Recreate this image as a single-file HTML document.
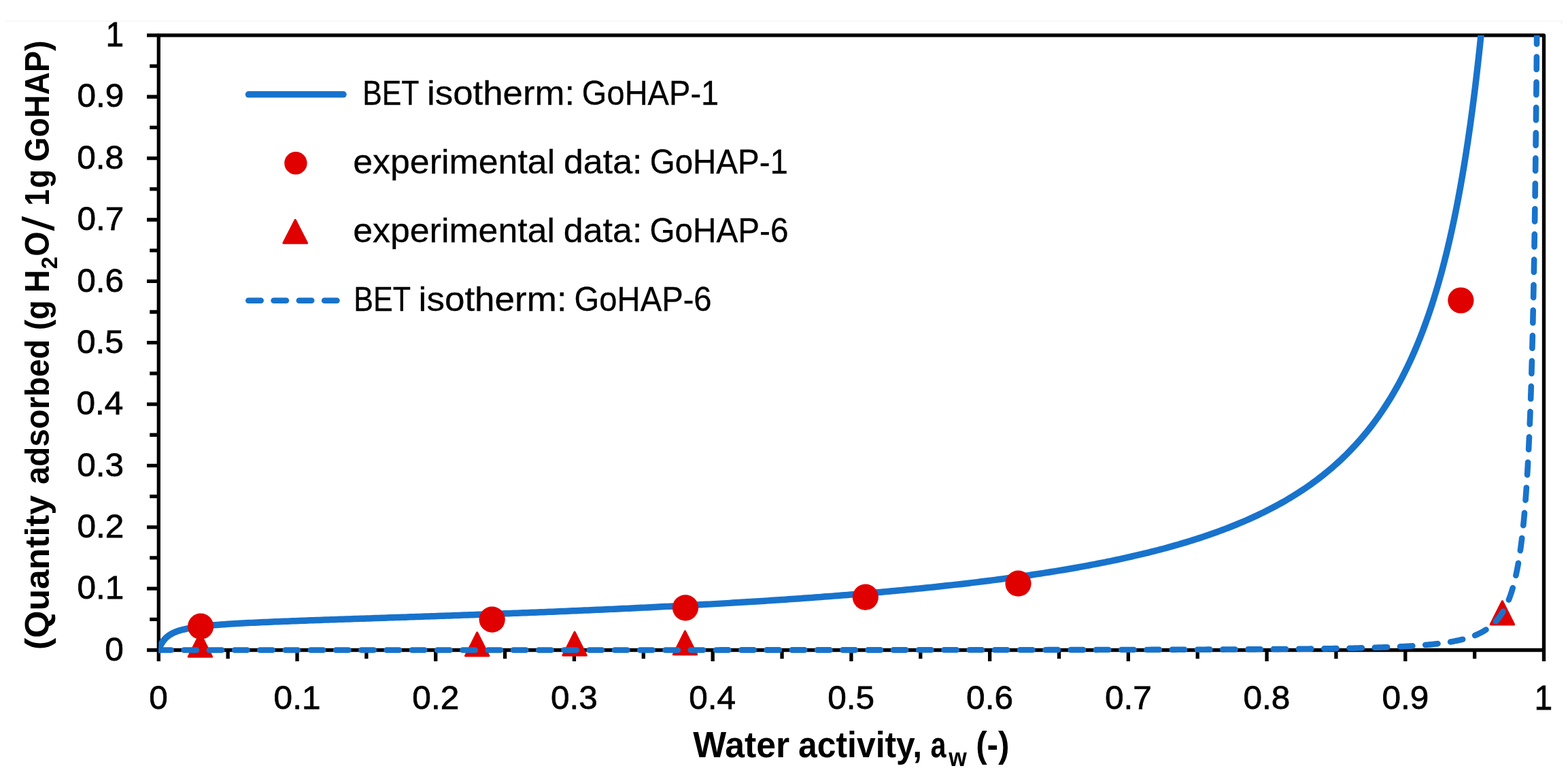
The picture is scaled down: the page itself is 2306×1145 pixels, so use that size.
<!DOCTYPE html>
<html><head><meta charset="utf-8"><title>Water sorption isotherms</title>
<style>html,body{margin:0;padding:0;background:#fff;overflow:hidden;}svg{display:block;}</style></head>
<body>
<svg width="2306" height="1145" viewBox="0 0 2306 1145" font-family="'Liberation Sans', sans-serif">
<rect width="2306" height="1145" fill="#fff"/>
<path d="M7.5 31.3H2297V36" fill="none" stroke="#f8f8f8" stroke-width="2.5"/>
<defs><clipPath id="pa"><rect x="233.30" y="51.90" width="2043.20" height="917.60"/></clipPath></defs>
<rect x="233.30" y="51.90" width="2037.20" height="903.60" fill="none" stroke="#000" stroke-width="5.3" stroke-linejoin="round"/>
<path d="M216.00 955.50H233.30M220.20 910.32H233.30M216.00 865.14H233.30M220.20 819.96H233.30M216.00 774.78H233.30M220.20 729.60H233.30M216.00 684.42H233.30M220.20 639.24H233.30M216.00 594.06H233.30M220.20 548.88H233.30M216.00 503.70H233.30M220.20 458.52H233.30M216.00 413.34H233.30M220.20 368.16H233.30M216.00 322.98H233.30M220.20 277.80H233.30M216.00 232.62H233.30M220.20 187.44H233.30M216.00 142.26H233.30M220.20 97.08H233.30M216.00 51.90H233.30M233.30 955.50V972.10M335.16 955.50V968.30M437.02 955.50V972.10M538.88 955.50V968.30M640.74 955.50V972.10M742.60 955.50V968.30M844.46 955.50V972.10M946.32 955.50V968.30M1048.18 955.50V972.10M1150.04 955.50V968.30M1251.90 955.50V972.10M1353.76 955.50V968.30M1455.62 955.50V972.10M1557.48 955.50V968.30M1659.34 955.50V972.10M1761.20 955.50V968.30M1863.06 955.50V972.10M1964.92 955.50V968.30M2066.78 955.50V972.10M2168.64 955.50V968.30M2270.50 955.50V972.10" stroke="#000" stroke-width="5.3" fill="none"/>
<g fill="#000" stroke="#000" stroke-width="0.75"><text transform="translate(154.27,970.66) scale(1.0200,1)" font-size="48.59" font-weight="normal">0</text><text transform="translate(113.39,880.30) scale(1.0200,1)" font-size="48.59" font-weight="normal">0.1</text><text transform="translate(113.39,789.94) scale(1.0200,1)" font-size="48.59" font-weight="normal">0.2</text><text transform="translate(113.14,699.58) scale(1.0200,1)" font-size="48.59" font-weight="normal">0.3</text><text transform="translate(112.39,609.22) scale(1.0200,1)" font-size="48.59" font-weight="normal">0.4</text><text transform="translate(112.89,518.86) scale(1.0200,1)" font-size="48.59" font-weight="normal">0.5</text><text transform="translate(113.14,428.50) scale(1.0200,1)" font-size="48.59" font-weight="normal">0.6</text><text transform="translate(113.39,338.14) scale(1.0200,1)" font-size="48.59" font-weight="normal">0.7</text><text transform="translate(113.14,247.78) scale(1.0200,1)" font-size="48.59" font-weight="normal">0.8</text><text transform="translate(113.39,157.42) scale(1.0200,1)" font-size="48.59" font-weight="normal">0.9</text><text transform="translate(155.61,67.55) scale(0.9581,1)" font-size="50.00" font-weight="normal">1</text><text transform="translate(219.35,1042.01) scale(1.0200,1)" font-size="48.59" font-weight="normal">0</text><text transform="translate(402.62,1042.01) scale(1.0200,1)" font-size="48.59" font-weight="normal">0.1</text><text transform="translate(606.34,1042.01) scale(1.0200,1)" font-size="48.59" font-weight="normal">0.2</text><text transform="translate(809.94,1042.01) scale(1.0200,1)" font-size="48.59" font-weight="normal">0.3</text><text transform="translate(1013.29,1042.01) scale(1.0200,1)" font-size="48.59" font-weight="normal">0.4</text><text transform="translate(1217.25,1042.01) scale(1.0200,1)" font-size="48.59" font-weight="normal">0.5</text><text transform="translate(1421.10,1042.01) scale(1.0200,1)" font-size="48.59" font-weight="normal">0.6</text><text transform="translate(1624.94,1042.01) scale(1.0200,1)" font-size="48.59" font-weight="normal">0.7</text><text transform="translate(1828.54,1042.01) scale(1.0200,1)" font-size="48.59" font-weight="normal">0.8</text><text transform="translate(2032.38,1042.01) scale(1.0200,1)" font-size="48.59" font-weight="normal">0.9</text><text transform="translate(2256.41,1042.50) scale(0.9581,1)" font-size="50.00" font-weight="normal">1</text></g>
<g fill="#000"><text transform="translate(1019.20,1112.50) scale(0.9742,1)" font-size="53.19" font-weight="bold">Water</text><text transform="translate(1174.10,1112.50) scale(0.9371,1)" font-size="53.19" font-weight="bold">activity,</text><text transform="translate(1368.56,1112.50) scale(0.7769,1)" font-size="53.19" font-weight="bold">a</text><text transform="translate(1395.30,1126.00) scale(0.9317,1)" font-size="36.60" font-weight="bold">w</text><text transform="translate(1435.13,1112.50) scale(0.9296,1)" font-size="53.19" font-weight="bold">(-)</text><text transform="translate(71.90,954.89) rotate(-90) scale(1.0312,1)" font-size="50.14" font-weight="bold">(Quantity</text><text transform="translate(71.90,712.02) rotate(-90) scale(0.9448,1)" font-size="50.14" font-weight="bold">adsorbed</text><text transform="translate(71.90,485.33) rotate(-90) scale(0.9306,1)" font-size="50.14" font-weight="bold">(g</text><text transform="translate(71.90,430.11) rotate(-90) scale(0.9227,1)" font-size="50.14" font-weight="bold">H</text><text transform="translate(84.40,395.46) rotate(-90) scale(0.9840,1)" font-size="33.66" font-weight="bold">2</text><text transform="translate(71.90,376.68) rotate(-90) scale(0.9354,1)" font-size="50.14" font-weight="bold">O</text><text transform="translate(78.70,339.60) rotate(-90) scale(1.2234,1)" font-size="64.20" font-weight="normal">/</text><text transform="translate(71.90,302.44) rotate(-90) scale(0.8706,1)" font-size="50.14" font-weight="bold">1</text><text transform="translate(71.90,276.51) rotate(-90) scale(0.9043,1)" font-size="50.14" font-weight="bold">g</text><text transform="translate(71.90,237.76) rotate(-90) scale(0.9276,1)" font-size="50.14" font-weight="bold">GoHAP)</text></g>
<g fill="#000" stroke="#000" stroke-width="0.3"><text transform="translate(533.17,154.40) scale(0.8552,1)" font-size="50.14" font-weight="normal">BET</text><text transform="translate(628.06,154.40) scale(1.0526,1)" font-size="50.14" font-weight="normal">isotherm:</text><text transform="translate(855.87,154.40) scale(0.9388,1)" font-size="50.14" font-weight="normal">GoHAP-1</text><text transform="translate(519.16,255.00) scale(1.0349,1)" font-size="50.14" font-weight="normal">experimental</text><text transform="translate(828.95,255.00) scale(1.0365,1)" font-size="50.14" font-weight="normal">data:</text><text transform="translate(955.70,255.00) scale(0.9476,1)" font-size="50.14" font-weight="normal">GoHAP-1</text><text transform="translate(519.17,356.30) scale(1.0344,1)" font-size="50.14" font-weight="normal">experimental</text><text transform="translate(828.81,356.30) scale(1.0360,1)" font-size="50.14" font-weight="normal">data:</text><text transform="translate(955.48,356.30) scale(0.9508,1)" font-size="50.14" font-weight="normal">GoHAP-6</text><text transform="translate(520.25,457.10) scale(0.8593,1)" font-size="50.14" font-weight="normal">BET</text><text transform="translate(615.60,457.10) scale(1.0577,1)" font-size="50.14" font-weight="normal">isotherm:</text><text transform="translate(844.52,457.10) scale(0.9422,1)" font-size="50.14" font-weight="normal">GoHAP-6</text></g>
<line x1="365.5" y1="138.8" x2="505.0" y2="138.8" stroke="#1873cc" stroke-width="9.5" stroke-linecap="round"/>
<circle cx="434.9" cy="239.8" r="16.7" fill="#e00000"/>
<path d="M434.20 323.40L451.45 357.20L416.95 357.20Z" fill="#e00000" stroke="#e00000" stroke-width="3.20" stroke-linejoin="round"/>
<line x1="365.3" y1="441.7" x2="500.0" y2="441.7" stroke="#1873cc" stroke-width="8.6" stroke-linecap="round" stroke-dasharray="18.4 18.86"/>
<g clip-path="url(#pa)">
<polyline points="233.30,955.50 233.30,955.49 233.30,955.49 233.30,955.49 233.30,955.49 233.30,955.49 233.30,955.49 233.30,955.49 233.30,955.49 233.30,955.49 233.30,955.49 233.30,955.49 233.30,955.49 233.30,955.49 233.30,955.49 233.30,955.49 233.30,955.49 233.30,955.49 233.31,955.49 233.31,955.48 233.31,955.48 233.31,955.48 233.31,955.48 233.31,955.48 233.31,955.48 233.31,955.48 233.31,955.48 233.31,955.48 233.31,955.47 233.31,955.47 233.31,955.47 233.31,955.47 233.31,955.47 233.31,955.47 233.31,955.46 233.31,955.46 233.31,955.46 233.31,955.46 233.32,955.46 233.32,955.45 233.32,955.45 233.32,955.45 233.32,955.44 233.32,955.44 233.32,955.44 233.32,955.44 233.32,955.43 233.32,955.43 233.33,955.42 233.33,955.42 233.33,955.42 233.33,955.41 233.33,955.41 233.33,955.40 233.34,955.39 233.34,955.39 233.34,955.38 233.34,955.38 233.35,955.37 233.35,955.36 233.35,955.35 233.35,955.35 233.36,955.34 233.36,955.33 233.36,955.32 233.37,955.31 233.37,955.30 233.37,955.29 233.38,955.27 233.38,955.26 233.39,955.25 233.39,955.24 233.40,955.22 233.40,955.20 233.41,955.19 233.41,955.17 233.42,955.15 233.43,955.13 233.43,955.11 233.44,955.09 233.45,955.07 233.46,955.05 233.47,955.02 233.48,954.99 233.49,954.97 233.50,954.94 233.51,954.91 233.52,954.87 233.53,954.84 233.54,954.80 233.56,954.76 233.57,954.72 233.59,954.68 233.60,954.64 233.62,954.59 233.64,954.54 233.66,954.49 233.68,954.43 233.70,954.37 233.72,954.31 233.74,954.25 233.77,954.18 233.79,954.11 233.82,954.03 233.85,953.96 233.88,953.87 233.91,953.79 233.95,953.69 233.98,953.60 234.02,953.50 234.06,953.39 234.11,953.28 234.15,953.16 234.20,953.04 234.25,952.91 234.30,952.77 234.36,952.63 234.42,952.48 234.48,952.33 234.55,952.16 234.62,951.99 234.69,951.82 234.77,951.63 234.85,951.43 234.93,951.23 235.03,951.02 235.12,950.79 235.22,950.56 235.33,950.32 235.45,950.07 235.57,949.81 235.69,949.53 235.83,949.25 235.97,948.96 236.12,948.65 236.27,948.33 236.44,948.01 236.61,947.67 236.80,947.31 237.00,946.95 237.20,946.57 237.42,946.19 237.65,945.79 237.89,945.38 238.15,944.95 238.42,944.52 238.71,944.07 239.01,943.61 239.33,943.15 239.66,942.67 240.02,942.18 240.40,941.68 240.79,941.17 241.21,940.65 241.65,940.13 242.12,939.60 242.61,939.05 243.13,938.51 243.68,937.95 244.26,937.40 244.87,936.83 245.52,936.27 246.20,935.70 246.92,935.12 247.69,934.55 248.49,933.98 249.34,933.40 250.23,932.83 251.18,932.26 252.18,931.69 253.23,931.12 254.35,930.56 255.53,930.00 256.77,929.45 258.08,928.90 259.46,928.36 260.92,927.83 262.47,927.30 264.10,926.78 265.82,926.27 267.64,925.76 269.55,925.26 271.58,924.78 273.72,924.30 275.98,923.82 278.36,923.36 280.88,922.91 283.54,922.46 286.35,922.03 289.31,921.60 292.44,921.18 295.74,920.76 299.23,920.36 302.92,919.96 306.81,919.57 310.91,919.18 315.25,918.80 319.83,918.42 324.66,918.05 329.77,917.68 335.16,917.32 339.50,917.04 343.84,916.77 348.18,916.52 352.52,916.27 356.86,916.04 361.20,915.81 365.54,915.59 369.88,915.37 374.22,915.16 378.56,914.96 382.90,914.76 387.24,914.57 391.58,914.38 395.92,914.19 400.26,914.01 404.60,913.83 408.94,913.66 413.28,913.48 417.62,913.31 421.96,913.14 426.30,912.98 430.64,912.81 434.98,912.65 439.32,912.49 443.66,912.33 448.00,912.17 452.34,912.01 456.68,911.86 461.02,911.70 465.36,911.55 469.70,911.40 474.04,911.24 478.38,911.09 482.72,910.94 487.06,910.79 491.40,910.64 495.74,910.50 500.08,910.35 504.42,910.20 508.76,910.05 513.10,909.91 517.44,909.76 521.78,909.61 526.12,909.47 530.46,909.32 534.80,909.18 539.14,909.03 543.48,908.88 547.82,908.74 552.15,908.59 556.49,908.45 560.83,908.30 565.17,908.15 569.51,908.01 573.85,907.86 578.19,907.72 582.53,907.57 586.87,907.42 591.21,907.28 595.55,907.13 599.89,906.98 604.23,906.83 608.57,906.69 612.91,906.54 617.25,906.39 621.59,906.24 625.93,906.09 630.27,905.94 634.61,905.79 638.95,905.64 643.29,905.49 647.63,905.34 651.97,905.19 656.31,905.04 660.65,904.88 664.99,904.73 669.33,904.58 673.67,904.42 678.01,904.27 682.35,904.11 686.69,903.96 691.03,903.80 695.37,903.64 699.71,903.48 704.05,903.33 708.39,903.17 712.73,903.01 717.07,902.85 721.41,902.69 725.75,902.52 730.09,902.36 734.43,902.20 738.77,902.04 743.11,901.87 747.45,901.71 751.79,901.54 756.13,901.37 760.47,901.21 764.81,901.04 769.15,900.87 773.49,900.70 777.83,900.53 782.17,900.36 786.51,900.19 790.85,900.01 795.19,899.84 799.53,899.66 803.87,899.49 808.21,899.31 812.55,899.13 816.89,898.96 821.23,898.78 825.57,898.60 829.91,898.42 834.25,898.23 838.59,898.05 842.93,897.87 847.27,897.68 851.61,897.50 855.95,897.31 860.29,897.12 864.63,896.93 868.97,896.74 873.31,896.55 877.65,896.36 881.99,896.16 886.33,895.97 890.67,895.77 895.01,895.58 899.35,895.38 903.69,895.18 908.03,894.98 912.37,894.78 916.71,894.58 921.05,894.37 925.39,894.17 929.73,893.96 934.07,893.75 938.41,893.54 942.75,893.33 947.09,893.12 951.43,892.91 955.77,892.70 960.11,892.48 964.45,892.26 968.79,892.05 973.13,891.83 977.47,891.61 981.81,891.38 986.14,891.16 990.48,890.94 994.82,890.71 999.16,890.48 1003.50,890.25 1007.84,890.02 1012.18,889.79 1016.52,889.55 1020.86,889.32 1025.20,889.08 1029.54,888.84 1033.88,888.60 1038.22,888.36 1042.56,888.12 1046.90,887.87 1051.24,887.63 1055.58,887.38 1059.92,887.13 1064.26,886.87 1068.60,886.62 1072.94,886.37 1077.28,886.11 1081.62,885.85 1085.96,885.59 1090.30,885.32 1094.64,885.06 1098.98,884.79 1103.32,884.52 1107.66,884.25 1112.00,883.98 1116.34,883.71 1120.68,883.43 1125.02,883.15 1129.36,882.87 1133.70,882.59 1138.04,882.30 1142.38,882.02 1146.72,881.73 1151.06,881.44 1155.40,881.14 1159.74,880.85 1164.08,880.55 1168.42,880.25 1172.76,879.95 1177.10,879.64 1181.44,879.33 1185.78,879.02 1190.12,878.71 1194.46,878.40 1198.80,878.08 1203.14,877.76 1207.48,877.44 1211.82,877.11 1216.16,876.78 1220.50,876.45 1224.84,876.12 1229.18,875.78 1233.52,875.45 1237.86,875.10 1242.20,874.76 1246.54,874.41 1250.88,874.06 1255.22,873.71 1259.56,873.36 1263.90,873.00 1268.24,872.63 1272.58,872.27 1276.92,871.90 1281.26,871.53 1285.60,871.15 1289.94,870.78 1294.28,870.40 1298.62,870.01 1302.96,869.62 1307.30,869.23 1311.64,868.84 1315.98,868.44 1320.32,868.04 1324.66,867.63 1329.00,867.22 1333.34,866.81 1337.68,866.39 1342.02,865.97 1346.36,865.54 1350.70,865.12 1355.04,864.68 1359.38,864.25 1363.72,863.80 1368.06,863.36 1372.40,862.91 1376.74,862.46 1381.08,862.00 1385.42,861.53 1389.76,861.07 1394.10,860.59 1398.44,860.12 1402.78,859.64 1407.12,859.15 1411.46,858.66 1415.80,858.16 1420.13,857.66 1424.47,857.16 1428.81,856.65 1433.15,856.13 1437.49,855.61 1441.83,855.08 1446.17,854.55 1450.51,854.01 1454.85,853.46 1459.19,852.91 1463.53,852.36 1467.87,851.80 1472.21,851.23 1476.55,850.65 1480.89,850.07 1485.23,849.49 1489.57,848.89 1493.91,848.29 1498.25,847.69 1502.59,847.07 1506.93,846.45 1511.27,845.83 1515.61,845.19 1519.95,844.55 1524.29,843.90 1528.63,843.24 1532.97,842.58 1537.31,841.91 1541.65,841.23 1545.99,840.54 1550.33,839.84 1554.67,839.13 1559.01,838.42 1563.35,837.70 1567.69,836.97 1572.03,836.23 1576.37,835.48 1580.71,834.72 1585.05,833.95 1589.39,833.17 1593.73,832.38 1598.07,831.58 1602.41,830.77 1606.75,829.95 1611.09,829.12 1615.43,828.28 1619.77,827.43 1624.11,826.57 1628.45,825.69 1632.79,824.80 1637.13,823.90 1641.47,822.99 1645.81,822.07 1650.15,821.13 1654.49,820.18 1658.83,819.21 1663.17,818.24 1667.51,817.24 1671.85,816.24 1676.19,815.22 1680.53,814.18 1684.87,813.13 1689.21,812.06 1693.55,810.98 1697.89,809.88 1702.23,808.76 1706.57,807.63 1710.91,806.48 1715.25,805.31 1719.59,804.12 1723.93,802.92 1728.27,801.69 1732.61,800.45 1736.95,799.18 1741.29,797.89 1745.63,796.59 1749.97,795.26 1754.31,793.91 1758.65,792.53 1762.99,791.13 1767.33,789.71 1771.67,788.26 1776.01,786.79 1780.35,785.29 1784.69,783.77 1789.03,782.22 1793.37,780.64 1797.71,779.03 1802.05,777.39 1806.39,775.72 1810.73,774.02 1815.07,772.28 1819.41,770.52 1823.75,768.71 1828.09,766.88 1832.43,765.00 1836.77,763.09 1841.11,761.14 1845.45,759.15 1849.79,757.12 1854.12,755.05 1858.46,752.94 1862.80,750.78 1867.14,748.57 1871.48,746.31 1875.82,744.01 1880.16,741.65 1884.50,739.24 1888.84,736.78 1893.18,734.26 1897.52,731.68 1901.86,729.04 1906.20,726.34 1910.54,723.57 1914.88,720.73 1919.22,717.83 1923.56,714.85 1927.90,711.79 1932.24,708.66 1936.58,705.45 1940.92,702.15 1945.26,698.76 1949.60,695.29 1953.94,691.71 1958.28,688.04 1962.62,684.27 1966.96,680.38 1971.30,676.39 1975.64,672.27 1979.98,668.04 1984.32,663.67 1988.66,659.17 1993.00,654.53 1997.34,649.74 2001.68,644.80 2006.02,639.70 2010.36,634.42 2014.70,628.97 2019.04,623.32 2023.38,617.48 2027.72,611.44 2032.06,605.17 2036.40,598.67 2040.74,591.92 2045.08,584.91 2049.42,577.63 2053.76,570.06 2058.10,562.17 2062.44,553.96 2066.78,545.40 2069.12,540.64 2071.42,535.82 2073.71,530.95 2075.96,526.02 2078.19,521.04 2080.40,515.99 2082.58,510.89 2084.73,505.73 2086.86,500.51 2088.97,495.23 2091.05,489.89 2093.11,484.48 2095.14,479.02 2097.15,473.48 2099.14,467.89 2101.11,462.23 2103.05,456.51 2104.97,450.71 2106.87,444.85 2108.74,438.93 2110.60,432.93 2112.43,426.87 2114.24,420.73 2116.03,414.53 2117.80,408.25 2119.56,401.90 2121.29,395.47 2123.00,388.97 2124.69,382.40 2126.36,375.74 2128.01,369.02 2129.65,362.21 2131.26,355.32 2132.86,348.36 2134.44,341.31 2136.00,334.19 2137.54,326.98 2139.06,319.68 2140.57,312.30 2142.06,304.84 2143.53,297.29 2144.99,289.65 2146.43,281.92 2147.85,274.11 2149.26,266.20 2150.65,258.20 2152.02,250.11 2153.38,241.92 2154.72,233.64 2156.05,225.27 2157.36,216.79 2158.66,208.22 2159.94,199.55 2161.21,190.78 2162.46,181.90 2163.70,172.93 2164.93,163.85 2166.14,154.66 2167.33,145.37 2168.52,135.97 2169.69,126.46 2170.84,116.84 2171.98,107.11 2173.11,97.26 2174.23,87.31 2175.33,77.23 2176.42,67.04 2177.50,56.73 2178.57,46.30 2179.62,35.76 2180.67,25.08 2181.70,14.29 2182.71,3.37 2183.72,-7.68" fill="none" stroke="#1873cc" stroke-width="9.5" stroke-linejoin="round" stroke-linecap="round"/>
<circle cx="295.1" cy="920.7" r="19.1" fill="#e00000"/>
<circle cx="723.7" cy="910.6" r="19.1" fill="#e00000"/>
<circle cx="1008.0" cy="893.3" r="19.1" fill="#e00000"/>
<circle cx="1272.8" cy="877.7" r="19.1" fill="#e00000"/>
<circle cx="1497.5" cy="857.7" r="19.1" fill="#e00000"/>
<circle cx="2148.4" cy="441.5" r="19.1" fill="#e00000"/>
<path d="M294.40 931.20L311.50 965.20L277.30 965.20Z" fill="#e00000" stroke="#e00000" stroke-width="3.20" stroke-linejoin="round"/>
<path d="M701.70 929.90L718.80 963.90L684.60 963.90Z" fill="#e00000" stroke="#e00000" stroke-width="3.20" stroke-linejoin="round"/>
<path d="M845.10 929.20L862.20 963.20L828.00 963.20Z" fill="#e00000" stroke="#e00000" stroke-width="3.20" stroke-linejoin="round"/>
<path d="M1007.50 927.90L1024.60 961.90L990.40 961.90Z" fill="#e00000" stroke="#e00000" stroke-width="3.20" stroke-linejoin="round"/>
<path d="M2209.40 883.80L2226.50 917.80L2192.30 917.80Z" fill="#e00000" stroke="#e00000" stroke-width="3.20" stroke-linejoin="round"/>
<polyline points="233.30,955.50 233.30,955.50 233.30,955.50 233.30,955.50 233.30,955.50 233.30,955.50 233.30,955.50 233.30,955.50 233.30,955.50 233.30,955.50 233.30,955.50 233.30,955.50 233.30,955.50 233.30,955.50 233.30,955.50 233.30,955.50 233.30,955.50 233.30,955.50 233.31,955.50 233.31,955.50 233.31,955.50 233.31,955.50 233.31,955.50 233.31,955.50 233.31,955.50 233.31,955.50 233.31,955.50 233.31,955.50 233.31,955.50 233.31,955.50 233.31,955.50 233.31,955.50 233.31,955.50 233.31,955.50 233.31,955.50 233.31,955.50 233.31,955.50 233.31,955.50 233.32,955.50 233.32,955.50 233.32,955.50 233.32,955.50 233.32,955.50 233.32,955.50 233.32,955.50 233.32,955.50 233.32,955.50 233.32,955.50 233.33,955.50 233.33,955.50 233.33,955.50 233.33,955.50 233.33,955.50 233.33,955.50 233.34,955.50 233.34,955.50 233.34,955.50 233.34,955.50 233.35,955.50 233.35,955.50 233.35,955.50 233.35,955.50 233.36,955.50 233.36,955.50 233.36,955.50 233.37,955.50 233.37,955.50 233.37,955.50 233.38,955.50 233.38,955.50 233.39,955.50 233.39,955.50 233.40,955.50 233.40,955.50 233.41,955.50 233.41,955.50 233.42,955.50 233.43,955.50 233.43,955.50 233.44,955.50 233.45,955.50 233.46,955.50 233.47,955.50 233.48,955.50 233.49,955.50 233.50,955.50 233.51,955.50 233.52,955.50 233.53,955.50 233.54,955.50 233.56,955.50 233.57,955.50 233.59,955.50 233.60,955.50 233.62,955.50 233.64,955.50 233.66,955.50 233.68,955.50 233.70,955.50 233.72,955.50 233.74,955.50 233.77,955.50 233.79,955.50 233.82,955.50 233.85,955.50 233.88,955.50 233.91,955.50 233.95,955.50 233.98,955.50 234.02,955.50 234.06,955.50 234.11,955.50 234.15,955.50 234.20,955.50 234.25,955.50 234.30,955.50 234.36,955.50 234.42,955.50 234.48,955.50 234.55,955.50 234.62,955.50 234.69,955.50 234.77,955.50 234.85,955.50 234.93,955.50 235.03,955.50 235.12,955.50 235.22,955.50 235.33,955.50 235.45,955.50 235.57,955.50 235.69,955.50 235.83,955.50 235.97,955.50 236.12,955.50 236.27,955.50 236.44,955.50 236.61,955.50 236.80,955.50 237.00,955.50 237.20,955.50 237.42,955.50 237.65,955.50 237.89,955.50 238.15,955.50 238.42,955.50 238.71,955.50 239.01,955.50 239.33,955.50 239.66,955.50 240.02,955.50 240.40,955.50 240.79,955.50 241.21,955.50 241.65,955.50 242.12,955.50 242.61,955.50 243.13,955.50 243.68,955.50 244.26,955.50 244.87,955.50 245.52,955.50 246.20,955.50 246.92,955.50 247.69,955.50 248.49,955.50 249.34,955.50 250.23,955.50 251.18,955.50 252.18,955.50 253.23,955.50 254.35,955.50 255.53,955.50 256.77,955.50 258.08,955.50 259.46,955.50 260.92,955.50 262.47,955.50 264.10,955.50 265.82,955.50 267.64,955.50 269.55,955.50 271.58,955.50 273.72,955.50 275.98,955.50 278.36,955.50 280.88,955.50 283.54,955.50 286.35,955.50 289.31,955.50 292.44,955.50 295.74,955.50 299.23,955.50 302.92,955.50 306.81,955.50 310.91,955.50 315.25,955.50 319.83,955.50 324.66,955.50 329.77,955.50 335.16,955.50 339.50,955.50 343.84,955.50 348.18,955.50 352.52,955.50 356.86,955.50 361.20,955.50 365.54,955.50 369.88,955.49 374.22,955.49 378.56,955.49 382.90,955.49 387.24,955.49 391.58,955.49 395.92,955.49 400.26,955.49 404.60,955.49 408.94,955.49 413.28,955.49 417.62,955.49 421.96,955.49 426.30,955.49 430.64,955.49 434.98,955.49 439.32,955.49 443.66,955.49 448.00,955.49 452.34,955.49 456.68,955.49 461.02,955.49 465.36,955.49 469.70,955.49 474.04,955.49 478.38,955.49 482.72,955.49 487.06,955.49 491.40,955.49 495.74,955.49 500.08,955.49 504.42,955.49 508.76,955.49 513.10,955.49 517.44,955.49 521.78,955.49 526.12,955.49 530.46,955.49 534.80,955.49 539.14,955.49 543.48,955.49 547.82,955.49 552.15,955.49 556.49,955.49 560.83,955.48 565.17,955.48 569.51,955.48 573.85,955.48 578.19,955.48 582.53,955.48 586.87,955.48 591.21,955.48 595.55,955.48 599.89,955.48 604.23,955.48 608.57,955.48 612.91,955.48 617.25,955.48 621.59,955.48 625.93,955.48 630.27,955.48 634.61,955.48 638.95,955.48 643.29,955.48 647.63,955.48 651.97,955.48 656.31,955.48 660.65,955.48 664.99,955.48 669.33,955.48 673.67,955.48 678.01,955.48 682.35,955.48 686.69,955.48 691.03,955.48 695.37,955.47 699.71,955.47 704.05,955.47 708.39,955.47 712.73,955.47 717.07,955.47 721.41,955.47 725.75,955.47 730.09,955.47 734.43,955.47 738.77,955.47 743.11,955.47 747.45,955.47 751.79,955.47 756.13,955.47 760.47,955.47 764.81,955.47 769.15,955.47 773.49,955.47 777.83,955.47 782.17,955.47 786.51,955.47 790.85,955.47 795.19,955.47 799.53,955.46 803.87,955.46 808.21,955.46 812.55,955.46 816.89,955.46 821.23,955.46 825.57,955.46 829.91,955.46 834.25,955.46 838.59,955.46 842.93,955.46 847.27,955.46 851.61,955.46 855.95,955.46 860.29,955.46 864.63,955.46 868.97,955.46 873.31,955.46 877.65,955.46 881.99,955.45 886.33,955.45 890.67,955.45 895.01,955.45 899.35,955.45 903.69,955.45 908.03,955.45 912.37,955.45 916.71,955.45 921.05,955.45 925.39,955.45 929.73,955.45 934.07,955.45 938.41,955.45 942.75,955.45 947.09,955.45 951.43,955.44 955.77,955.44 960.11,955.44 964.45,955.44 968.79,955.44 973.13,955.44 977.47,955.44 981.81,955.44 986.14,955.44 990.48,955.44 994.82,955.44 999.16,955.44 1003.50,955.44 1007.84,955.43 1012.18,955.43 1016.52,955.43 1020.86,955.43 1025.20,955.43 1029.54,955.43 1033.88,955.43 1038.22,955.43 1042.56,955.43 1046.90,955.43 1051.24,955.43 1055.58,955.43 1059.92,955.42 1064.26,955.42 1068.60,955.42 1072.94,955.42 1077.28,955.42 1081.62,955.42 1085.96,955.42 1090.30,955.42 1094.64,955.42 1098.98,955.42 1103.32,955.41 1107.66,955.41 1112.00,955.41 1116.34,955.41 1120.68,955.41 1125.02,955.41 1129.36,955.41 1133.70,955.41 1138.04,955.41 1142.38,955.40 1146.72,955.40 1151.06,955.40 1155.40,955.40 1159.74,955.40 1164.08,955.40 1168.42,955.40 1172.76,955.40 1177.10,955.39 1181.44,955.39 1185.78,955.39 1190.12,955.39 1194.46,955.39 1198.80,955.39 1203.14,955.39 1207.48,955.38 1211.82,955.38 1216.16,955.38 1220.50,955.38 1224.84,955.38 1229.18,955.38 1233.52,955.38 1237.86,955.37 1242.20,955.37 1246.54,955.37 1250.88,955.37 1255.22,955.37 1259.56,955.37 1263.90,955.36 1268.24,955.36 1272.58,955.36 1276.92,955.36 1281.26,955.36 1285.60,955.36 1289.94,955.35 1294.28,955.35 1298.62,955.35 1302.96,955.35 1307.30,955.35 1311.64,955.34 1315.98,955.34 1320.32,955.34 1324.66,955.34 1329.00,955.33 1333.34,955.33 1337.68,955.33 1342.02,955.33 1346.36,955.33 1350.70,955.32 1355.04,955.32 1359.38,955.32 1363.72,955.32 1368.06,955.31 1372.40,955.31 1376.74,955.31 1381.08,955.31 1385.42,955.30 1389.76,955.30 1394.10,955.30 1398.44,955.30 1402.78,955.29 1407.12,955.29 1411.46,955.29 1415.80,955.28 1420.13,955.28 1424.47,955.28 1428.81,955.28 1433.15,955.27 1437.49,955.27 1441.83,955.27 1446.17,955.26 1450.51,955.26 1454.85,955.26 1459.19,955.25 1463.53,955.25 1467.87,955.24 1472.21,955.24 1476.55,955.24 1480.89,955.23 1485.23,955.23 1489.57,955.23 1493.91,955.22 1498.25,955.22 1502.59,955.21 1506.93,955.21 1511.27,955.21 1515.61,955.20 1519.95,955.20 1524.29,955.19 1528.63,955.19 1532.97,955.18 1537.31,955.18 1541.65,955.17 1545.99,955.17 1550.33,955.16 1554.67,955.16 1559.01,955.15 1563.35,955.15 1567.69,955.14 1572.03,955.14 1576.37,955.13 1580.71,955.12 1585.05,955.12 1589.39,955.11 1593.73,955.11 1598.07,955.10 1602.41,955.09 1606.75,955.09 1611.09,955.08 1615.43,955.07 1619.77,955.07 1624.11,955.06 1628.45,955.05 1632.79,955.04 1637.13,955.04 1641.47,955.03 1645.81,955.02 1650.15,955.01 1654.49,955.01 1658.83,955.00 1663.17,954.99 1667.51,954.98 1671.85,954.97 1676.19,954.96 1680.53,954.95 1684.87,954.94 1689.21,954.93 1693.55,954.92 1697.89,954.91 1702.23,954.90 1706.57,954.89 1710.91,954.88 1715.25,954.87 1719.59,954.86 1723.93,954.84 1728.27,954.83 1732.61,954.82 1736.95,954.81 1741.29,954.79 1745.63,954.78 1749.97,954.76 1754.31,954.75 1758.65,954.74 1762.99,954.72 1767.33,954.70 1771.67,954.69 1776.01,954.67 1780.35,954.66 1784.69,954.64 1789.03,954.62 1793.37,954.60 1797.71,954.58 1802.05,954.56 1806.39,954.54 1810.73,954.52 1815.07,954.50 1819.41,954.48 1823.75,954.46 1828.09,954.44 1832.43,954.41 1836.77,954.39 1841.11,954.36 1845.45,954.34 1849.79,954.31 1854.12,954.28 1858.46,954.25 1862.80,954.22 1867.14,954.19 1871.48,954.16 1875.82,954.13 1880.16,954.10 1884.50,954.06 1888.84,954.03 1893.18,953.99 1897.52,953.95 1901.86,953.91 1906.20,953.87 1910.54,953.83 1914.88,953.78 1919.22,953.73 1923.56,953.69 1927.90,953.64 1932.24,953.59 1936.58,953.53 1940.92,953.48 1945.26,953.42 1949.60,953.36 1953.94,953.29 1958.28,953.23 1962.62,953.16 1966.96,953.09 1971.30,953.01 1975.64,952.94 1979.98,952.85 1984.32,952.77 1988.66,952.68 1993.00,952.59 1997.34,952.49 2001.68,952.39 2006.02,952.28 2010.36,952.17 2014.70,952.05 2019.04,951.92 2023.38,951.79 2027.72,951.66 2032.06,951.51 2036.40,951.36 2040.74,951.19 2045.08,951.02 2049.42,950.84 2053.76,950.65 2058.10,950.44 2062.44,950.23 2066.78,950.00 2069.12,949.87 2071.42,949.74 2073.71,949.60 2075.96,949.46 2078.19,949.32 2080.40,949.17 2082.58,949.03 2084.73,948.87 2086.86,948.72 2088.97,948.56 2091.05,948.40 2093.11,948.23 2095.14,948.06 2097.15,947.89 2099.14,947.71 2101.11,947.53 2103.05,947.35 2104.97,947.16 2106.87,946.97 2108.74,946.77 2110.60,946.57 2112.43,946.36 2114.24,946.15 2116.03,945.94 2117.80,945.72 2119.56,945.49 2121.29,945.26 2123.00,945.03 2124.69,944.79 2126.36,944.54 2128.01,944.29 2129.65,944.04 2131.26,943.78 2132.86,943.51 2134.44,943.24 2136.00,942.96 2137.54,942.67 2139.06,942.38 2140.57,942.09 2142.06,941.78 2143.53,941.47 2144.99,941.16 2146.43,940.83 2147.85,940.50 2149.26,940.17 2150.65,939.82 2152.02,939.47 2153.38,939.11 2154.72,938.74 2156.05,938.37 2157.36,937.99 2158.66,937.60 2159.94,937.20 2161.21,936.79 2162.46,936.37 2163.70,935.95 2164.93,935.52 2166.14,935.07 2167.33,934.62 2168.52,934.16 2169.69,933.69 2170.84,933.21 2171.98,932.72 2173.11,932.22 2174.23,931.70 2175.33,931.18 2176.42,930.65 2177.50,930.11 2178.57,929.55 2179.62,928.98 2180.67,928.41 2181.70,927.81 2182.71,927.21 2183.72,926.60 2184.72,925.97 2185.70,925.33 2186.67,924.68 2187.63,924.01 2188.58,923.33 2189.52,922.64 2190.45,921.93 2191.37,921.20 2192.28,920.47 2193.17,919.72 2194.06,918.95 2194.94,918.17 2195.80,917.37 2196.66,916.55 2197.51,915.72 2198.34,914.87 2199.17,914.01 2199.99,913.13 2200.80,912.23 2201.60,911.31 2202.39,910.38 2203.17,909.42 2203.94,908.45 2204.70,907.46 2205.46,906.45 2206.20,905.42 2206.94,904.37 2207.67,903.29 2208.39,902.20 2209.10,901.09 2209.80,899.95 2210.50,898.79 2211.19,897.61 2211.87,896.41 2212.54,895.18 2213.21,893.93 2213.86,892.66 2214.51,891.36 2215.15,890.03 2215.79,888.68 2216.42,887.31 2217.04,885.91 2217.65,884.48 2218.25,883.02 2218.85,881.54 2219.45,880.03 2220.03,878.49 2220.61,876.92 2221.18,875.32 2221.75,873.69 2222.31,872.04 2222.86,870.35 2223.41,868.62 2223.95,866.87 2224.48,865.08 2225.01,863.27 2225.53,861.41 2226.04,859.52 2226.55,857.60 2227.06,855.65 2227.56,853.65 2228.05,851.62 2228.53,849.55 2229.02,847.45 2229.49,845.31 2229.96,843.12 2230.43,840.90 2230.89,838.64 2231.34,836.34 2231.79,833.99 2232.23,831.61 2232.67,829.18 2233.11,826.70 2233.53,824.19 2233.96,821.63 2234.38,819.02 2234.79,816.37 2235.20,813.66 2235.61,810.92 2236.01,808.12 2236.40,805.27 2236.79,802.38 2237.18,799.43 2237.56,796.43 2237.94,793.38 2238.31,790.28 2238.68,787.13 2239.05,783.91 2239.41,780.65 2239.76,777.32 2240.12,773.94 2240.46,770.51 2240.81,767.01 2241.15,763.45 2241.48,759.84 2241.82,756.16 2242.15,752.42 2242.47,748.61 2242.79,744.75 2243.11,740.81 2243.42,736.82 2243.74,732.75 2244.04,728.62 2244.35,724.42 2244.65,720.14 2244.94,715.80 2245.23,711.39 2245.52,706.90 2245.81,702.34 2246.09,697.70 2246.37,692.99 2246.65,688.20 2246.92,683.34 2247.19,678.39 2247.46,673.37 2247.73,668.26 2247.99,663.07 2248.24,657.80 2248.50,652.44 2248.75,647.00 2249.00,641.47 2249.25,635.85 2249.49,630.14 2249.73,624.34 2249.97,618.45 2250.21,612.47 2250.44,606.40 2250.67,600.22 2250.90,593.96 2251.12,587.59 2251.34,581.12 2251.56,574.56 2251.78,567.89 2251.99,561.12 2252.21,554.24 2252.42,547.26 2252.62,540.18 2252.83,532.98 2253.03,525.67 2253.23,518.25 2253.43,510.72 2253.63,503.08 2253.82,495.32 2254.01,487.44 2254.20,479.44 2254.39,471.33 2254.57,463.09 2254.75,454.73 2254.93,446.24 2255.11,437.63 2255.29,428.89 2255.46,420.02 2255.64,411.02 2255.81,401.89 2255.97,392.62 2256.14,383.22 2256.31,373.68 2256.47,364.00 2256.63,354.18 2256.79,344.22 2256.95,334.11 2257.10,323.85 2257.25,313.45 2257.41,302.90 2257.56,292.20 2257.71,281.34 2257.85,270.33 2258.00,259.16 2258.14,247.83 2258.28,236.34 2258.42,224.69 2258.56,212.87 2258.70,200.89 2258.83,188.74 2258.97,176.42 2259.10,163.92 2259.23,151.25 2259.36,138.40 2259.49,125.38 2259.61,112.17 2259.74,98.78 2259.86,85.20 2259.98,71.44 2260.10,57.49 2260.22,43.34 2260.34,29.00 2260.46,14.47 2260.57,-0.27 2260.69,-15.20" fill="none" stroke="#1873cc" stroke-width="8.6" stroke-linejoin="round" stroke-linecap="round" stroke-dasharray="18.4 18.86"/>
</g>
</svg>
</body></html>
